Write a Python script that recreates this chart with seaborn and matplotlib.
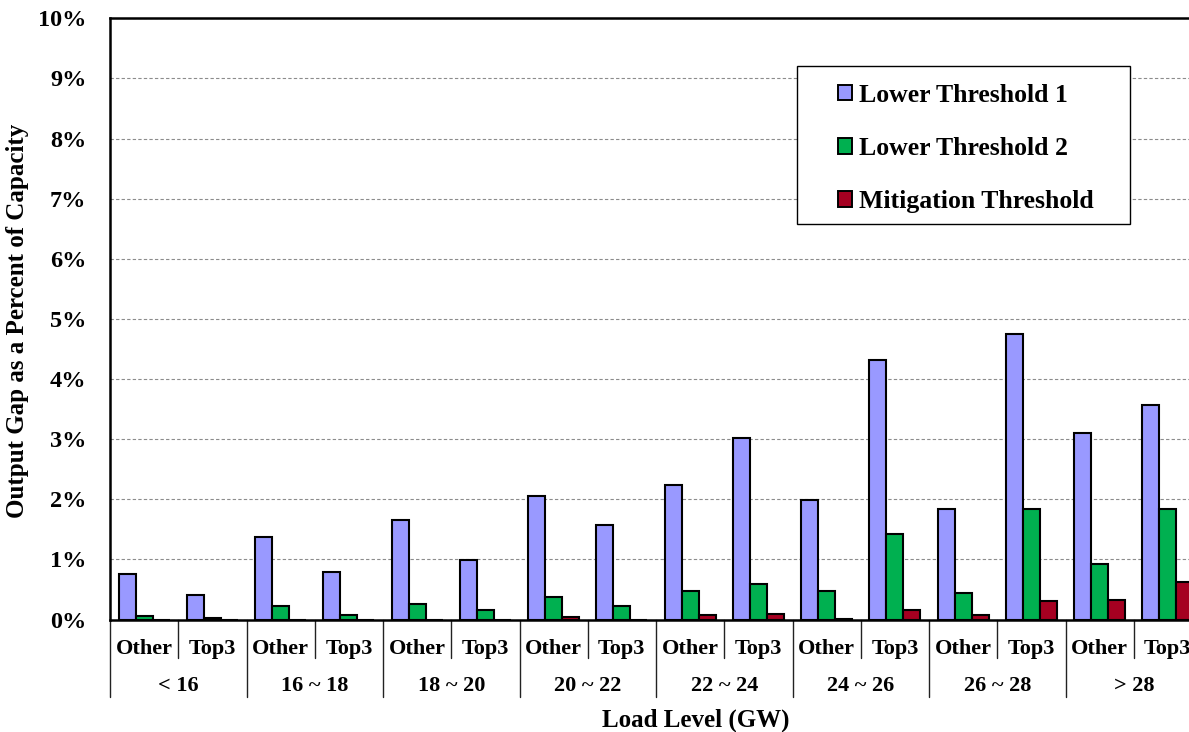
import matplotlib
matplotlib.use("Agg")
import matplotlib.pyplot as plt
import matplotlib.transforms as mtransforms
from matplotlib.patches import Rectangle
import seaborn as sns
import pandas as pd
from matplotlib.ticker import FuncFormatter, MultipleLocator

# ---- data ----
load_levels = ["< 16", "16 ~ 18", "18 ~ 20", "20 ~ 22", "22 ~ 24", "24 ~ 26", "26 ~ 28", "> 28"]
subgroups = ["Other", "Top3"]
series_names = ["Lower Threshold 1", "Lower Threshold 2", "Mitigation Threshold"]
# values in percent, order: (<16 Other, <16 Top3, 16~18 Other, ...)
lower_threshold_1 = [0.76, 0.41, 1.38, 0.79, 1.66, 0.99, 2.05, 1.57,
                     2.23, 3.02, 1.99, 4.31, 1.83, 4.75, 3.10, 3.56]
lower_threshold_2 = [0.05, 0.03, 0.22, 0.08, 0.25, 0.16, 0.37, 0.22,
                     0.48, 0.59, 0.48, 1.42, 0.44, 1.83, 0.92, 1.83]
mitigation_threshold = [0.00, 0.00, 0.00, 0.00, 0.00, 0.00, 0.04, 0.00,
                        0.07, 0.09, 0.01, 0.16, 0.07, 0.30, 0.33, 0.62]
colors = ["#9999FF", "#00B050", "#A50021"]

# ---- build long table ----
cat_keys, cat_sub = [], []
for lv in load_levels:
    for sg in subgroups:
        cat_keys.append(f"{lv}|{sg}")
        cat_sub.append(sg)
rows = []
for name, vals in zip(series_names, [lower_threshold_1, lower_threshold_2, mitigation_threshold]):
    for k, v in zip(cat_keys, vals):
        rows.append({"cat": k, "series": name, "value": v})
df = pd.DataFrame(rows)

sns.set_theme(style="white")
plt.rcParams["font.family"] = ["Liberation Serif", "DejaVu Serif"]
plt.rcParams["font.weight"] = "bold"
for key in ["text.color", "axes.labelcolor", "xtick.color", "ytick.color", "axes.edgecolor"]:
    plt.rcParams[key] = "black"

W, H = 1189, 732
fig = plt.figure(figsize=(W / 100, H / 100), dpi=100)
ax_left, ax_right, ax_top, ax_bot = 110, 1202, 18.3, 619.5
ax = fig.add_axes([ax_left / W, 1 - ax_bot / H, (ax_right - ax_left) / W, (ax_bot - ax_top) / H])

sns.barplot(data=df, x="cat", y="value", hue="series", order=cat_keys,
            hue_order=series_names, palette=colors, width=0.75,
            edgecolor="black", linewidth=1.5, saturation=1, ax=ax, errorbar=None)

ax.set_xlim(-0.5, len(cat_keys) - 0.5)
ax.set_ylim(0, 10)
ax.yaxis.set_major_locator(MultipleLocator(1))
ax.yaxis.set_major_formatter(FuncFormatter(lambda v, p: f"{v:.0f}%"))
ax.tick_params(axis="y", length=0, pad=17, labelsize=17.5, labelcolor="black")
for lab in ax.get_yticklabels():
    lab.set_fontweight("bold")
ax.grid(axis="y", color="#8c8c8c", linestyle=(0, (3, 2)), linewidth=0.8)
ax.set_axisbelow(True)
for s in ["left", "top", "bottom"]:
    ax.spines[s].set_color("black")
    ax.spines[s].set_linewidth(1.8)
ax.spines["right"].set_visible(False)

# x axis: subgroup labels
ax.set_xticks(range(len(cat_keys)))
ax.set_xticklabels(cat_sub, fontsize=16, fontweight="bold", color="black")
ax.tick_params(axis="x", length=0, pad=14)
ax.set_xlabel("")
ax.set_ylabel("")

trans = mtransforms.blended_transform_factory(ax.transData, ax.transAxes)
px = 1.0 / (ax_bot - ax_top)  # axes fraction per pixel (vertical)
# separators
for k in range(len(cat_keys) + 1):
    x = k - 0.5
    depth = 77 if k % 2 == 0 else 38.5
    ax.plot([x, x], [0, -depth * px], transform=trans, color="#222222",
            linewidth=1.0, clip_on=False)
# group labels
for i, lv in enumerate(load_levels):
    ax.text(2 * i + 0.5, -66.5 * px, lv, transform=trans, ha="center", va="center",
            fontsize=16, fontweight="bold", color="black")

# axis titles
fig.text(695.5 / W, 1 - 720 / H, "Load Level (GW)", ha="center", va="center",
         fontsize=18, fontweight="bold", color="black")
fig.text(18 / W, 1 - 321 / H, "Output Gap as a Percent of Capacity", ha="center",
         va="center", rotation=90, fontsize=18, fontweight="bold", color="black")

# legend (frame drawn as a separate box)
handles, labels = ax.get_legend_handles_labels()
leg = ax.legend(handles, labels, loc="center left",
                bbox_to_anchor=(838 / W, 1 - 148.5 / H), bbox_transform=fig.transFigure,
                frameon=False,
                prop={"family": "Liberation Serif", "weight": "bold", "size": 18.5},
                handlelength=0.55, handleheight=0.55, handletextpad=0.27,
                labelspacing=1.18, borderpad=0, borderaxespad=0)
leg.set_zorder(10)
for h in leg.legend_handles:
    h.set_edgecolor("black")
    h.set_linewidth(1.4)
for t in leg.get_texts():
    t.set_color("black")
box = Rectangle((797 / W, 1 - 224 / H), (1130 - 797) / W, (224 - 66) / H,
                transform=fig.transFigure, facecolor="white", edgecolor="black",
                linewidth=1.0, zorder=5)
fig.patches.append(box)
# ensure the legend sits above the box
leg.remove()
fig.legends.append(leg)
leg.set_figure(fig)

fig.savefig("out.png", dpi=100)
